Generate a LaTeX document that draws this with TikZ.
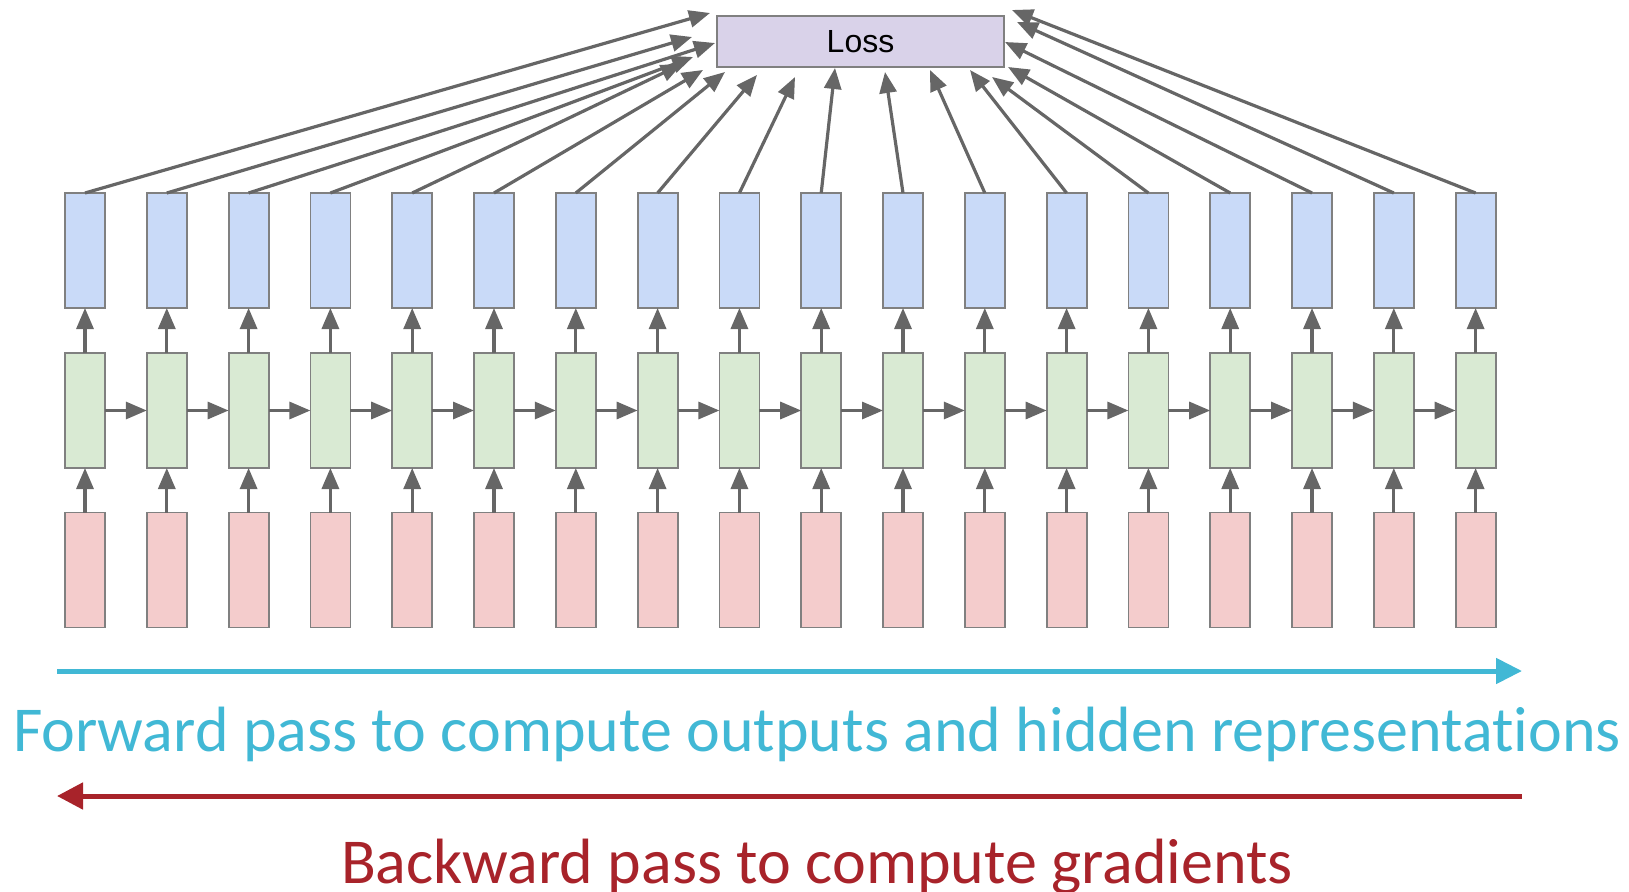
\documentclass[tikz,border=0pt]{standalone}
\usepackage{fontspec}
\setmainfont[Ligatures=NoCommon]{Carlito}
\newfontfamily\arialfont{Liberation Sans}
\usetikzlibrary{arrows.meta}
\definecolor{bluefill}{HTML}{C9DAF8}
\definecolor{greenfill}{HTML}{D9EAD3}
\definecolor{redfill}{HTML}{F4CCCC}
\definecolor{lossfill}{HTML}{D9D2E9}
\definecolor{boxline}{HTML}{808080}
\definecolor{arrgray}{HTML}{666666}
\definecolor{fwdcyan}{HTML}{41B8D5}
\definecolor{bwdred}{HTML}{A8232A}
\tikzset{
  cell/.style={draw=boxline, line width=1.8pt, minimum width=40pt, minimum height=115pt, inner sep=0pt, outer sep=0pt},
  outcell/.style={cell, fill=bluefill},
  hidcell/.style={cell, fill=greenfill},
  incell/.style={cell, fill=redfill},
  lossbox/.style={draw=boxline, line width=1.8pt, fill=lossfill, minimum width=287pt, minimum height=51pt, inner sep=0pt, font=\arialfont\fontsize{32}{38}\selectfont},
  arr/.style={draw=arrgray, line width=3.2pt, -{Triangle[length=21pt, width=17pt]}},
  passtext/.style={inner sep=0pt, anchor=base, font=\fontsize{64}{72}\selectfont},
}
\begin{document}
\begin{tikzpicture}[x=1pt, y=-1pt]
\useasboundingbox (0,0) rectangle (1629,891);
\node[lossbox] (loss) at (860.5,41.5) {Loss};
\foreach \i in {1,...,18} {
  \pgfmathsetmacro{\cx}{85+81.8*(\i-1)}
  \node[outcell] (o\i) at (\cx,250.5) {};
  \node[hidcell] (h\i) at (\cx,410.5) {};
  \node[incell] (x\i) at (\cx,570) {};
  \draw[arr] (x\i.north) -- (h\i.south);
  \draw[arr] (h\i.north) -- (o\i.south);
}
\foreach \i [evaluate=\i as \j using int(\i+1)] in {1,...,17} {
  \draw[arr] (h\i.east) -- (h\j.west);
}
% arrow tips at the loss box
\coordinate (t1) at (710,13);
\coordinate (t2) at (692,37);
\coordinate (t3) at (715,43);
\coordinate (t4) at (693,57);
\coordinate (t5) at (682,64);
\coordinate (t6) at (703,70);
\coordinate (t7) at (725,72);
\coordinate (t8) at (757,75);
\coordinate (t9) at (795,77);
\coordinate (t10) at (835,68);
\coordinate (t11) at (885,72);
\coordinate (t12) at (930,70);
\coordinate (t13) at (970,70);
\coordinate (t14) at (992,77);
\coordinate (t15) at (1008,67);
\coordinate (t16) at (1005,42);
\coordinate (t17) at (1017,22);
\coordinate (t18) at (1012,10);
\foreach \i in {1,...,18} {
  \draw[arr] (o\i.north) -- (t\i);
}
% passes
\coordinate (fs) at (57,671);
\coordinate (fe) at (1522,671);
\draw[fwdcyan, line width=5pt, -{Triangle[length=26pt, width=25pt]}] (fs) -- (fe);
\node[passtext, text=fwdcyan] (fwd) at (817,751) {Forward pass to compute outputs and hidden representations};
\coordinate (bs) at (1522,796);
\coordinate (be) at (57,796);
\draw[bwdred, line width=5pt, -{Triangle[length=26pt, width=26pt]}] (bs) -- (be);
\node[passtext, text=bwdred] (bwd) at (817,883) {Backward pass to compute gradients};
\end{tikzpicture}
\end{document}
